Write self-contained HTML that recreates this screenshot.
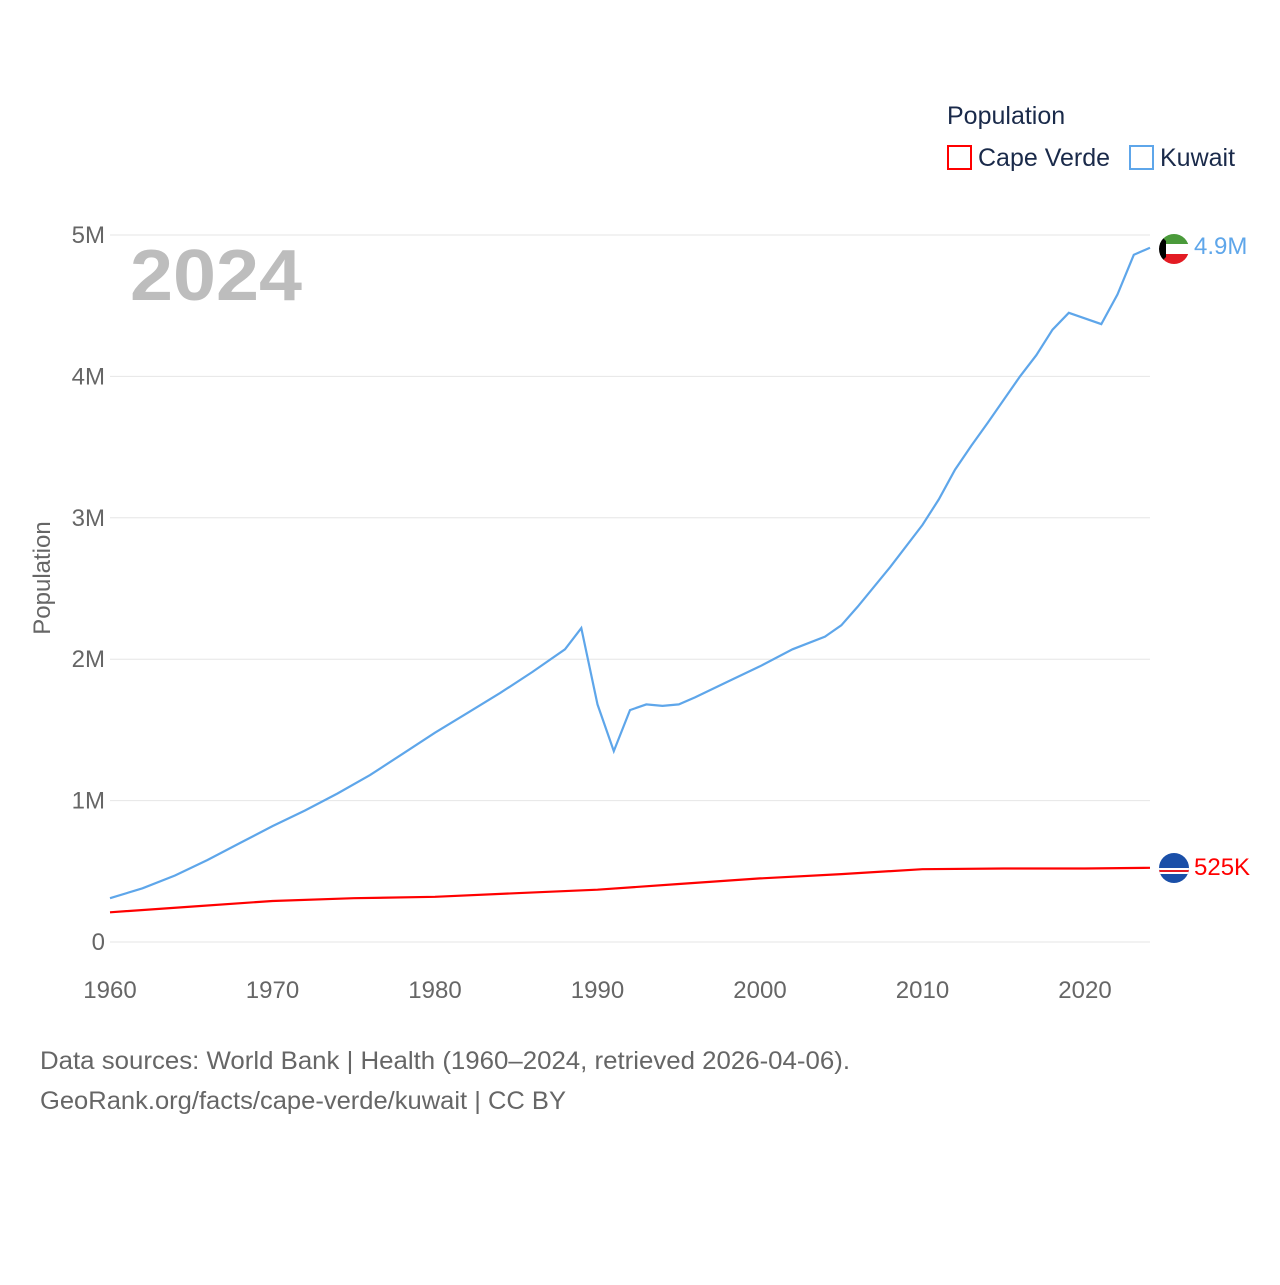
<!DOCTYPE html>
<html><head><meta charset="utf-8"><style>
body{margin:0;background:#fff;font-family:"Liberation Sans",sans-serif}
svg text{font-family:"Liberation Sans",sans-serif}
</style></head><body>
<svg width="1280" height="1280" viewBox="0 0 1280 1280">
<g id="grid"></g>
<g id="yticks"></g>
<g id="xticks"></g>
<text x="130" y="300" font-size="72" font-weight="bold" fill="#bdbdbd" textLength="172" lengthAdjust="spacingAndGlyphs">2024</text>
<text transform="translate(50,578) rotate(-90)" text-anchor="middle" font-size="24" fill="#666">Population</text>
<g>
<text x="947" y="124" font-size="25" fill="#1a2a4a">Population</text>
<g><rect x="948" y="146" width="23" height="23" fill="none" stroke="#f00" stroke-width="2"/><text x="978" y="166" font-size="25" fill="#1a2a4a">Cape Verde</text></g>
<g><rect x="1130" y="146" width="23" height="23" fill="none" stroke="#5ea6ea" stroke-width="2"/><text x="1160" y="166" font-size="25" fill="#1a2a4a">Kuwait</text></g>
</g>
<path id="kw" fill="none" stroke="#5ea6ea" stroke-width="2.2"/>
<path id="cv" fill="none" stroke="#f00" stroke-width="2.2"/>
<g>
<clipPath id="ck"><circle cx="1174" cy="249" r="15"/></clipPath>
<g clip-path="url(#ck)"><rect x="1159" y="234" width="30" height="10" fill="#4a9a3a"/><rect x="1159" y="244" width="30" height="10" fill="#fff"/><rect x="1159" y="254" width="30" height="10" fill="#e31b23"/><polygon points="1159,234 1166,241 1166,257 1159,264" fill="#000"/></g>
</g>
<text x="1194" y="254" font-size="24" fill="#5ea6ea">4.9M</text>
<g>
<clipPath id="cc"><circle cx="1174" cy="868" r="15"/></clipPath>
<g clip-path="url(#cc)"><rect x="1159" y="853" width="30" height="30" fill="#1a4fa8"/><rect x="1159" y="868" width="30" height="6" fill="#fff"/><rect x="1159" y="870" width="30" height="2" fill="#e31b23"/></g>
</g>
<text x="1194" y="875" font-size="24" fill="#f00">525K</text>
<text x="40" y="1069" font-size="25" fill="#666" textLength="810" lengthAdjust="spacingAndGlyphs">Data sources: World Bank | Health (1960–2024, retrieved 2026-04-06).</text>
<text x="40" y="1109" font-size="25" fill="#666" textLength="526" lengthAdjust="spacingAndGlyphs">GeoRank.org/facts/cape-verde/kuwait | CC BY</text>
</svg>
<script>
const yTickVals=[0,1,2,3,4,5];
const yTickLabels=["0","1M","2M","3M","4M","5M"];
const xTickVals=[1960,1970,1980,1990,2000,2010,2020];
const kwYears=[1960,1962,1964,1966,1968,1970,1972,1974,1976,1978,1980,1982,1984,1986,1988,1989,1990,1991,1992,1993,1994,1995,1996,1998,2000,2002,2004,2005,2006,2008,2010,2011,2012,2013,2014,2016,2017,2018,2019,2020,2021,2022,2023,2024];
const kwVals=[0.31,0.38,0.47,0.58,0.70,0.82,0.93,1.05,1.18,1.33,1.48,1.62,1.76,1.91,2.07,2.22,1.68,1.35,1.64,1.68,1.67,1.68,1.73,1.84,1.95,2.07,2.16,2.24,2.37,2.65,2.95,3.13,3.34,3.51,3.67,4.0,4.15,4.33,4.45,4.41,4.37,4.58,4.86,4.91];
const cvYears=[1960,1965,1970,1975,1980,1985,1990,1995,2000,2005,2010,2015,2020,2024];
const cvVals=[0.21,0.25,0.29,0.31,0.32,0.345,0.37,0.41,0.45,0.48,0.515,0.52,0.52,0.525];
const X=y=>110+(y-1960)*(1040/64);
const Y=v=>942-v*141.4;
const NS="http://www.w3.org/2000/svg";
const grid=document.getElementById('grid'),yt=document.getElementById('yticks'),xt=document.getElementById('xticks');
yTickVals.forEach((v,i)=>{
 const l=document.createElementNS(NS,'line');
 l.setAttribute('x1',110);l.setAttribute('x2',1150);l.setAttribute('y1',Y(v));l.setAttribute('y2',Y(v));
 l.setAttribute('stroke','#e6e6e6');l.setAttribute('stroke-width','1');
 
 
 grid.appendChild(l);
 const t=document.createElementNS(NS,'text');
 t.setAttribute('x',105);t.setAttribute('y',Y(v)+8);t.setAttribute('text-anchor','end');
 t.setAttribute('font-size','24');t.setAttribute('fill','#666');t.textContent=yTickLabels[i];
 
 
 yt.appendChild(t);
});
xTickVals.forEach(v=>{
 const t=document.createElementNS(NS,'text');
 t.setAttribute('x',X(v));t.setAttribute('y',998);t.setAttribute('text-anchor','middle');
 t.setAttribute('font-size','24');t.setAttribute('fill','#666');t.textContent=v;
 
 
 xt.appendChild(t);
});
const path=(ys,vs)=>ys.map((y,i)=>(i?'L':'M')+X(y).toFixed(1)+','+Y(vs[i]).toFixed(1)).join('');
document.getElementById('kw').setAttribute('d',path(kwYears,kwVals));
document.getElementById('cv').setAttribute('d',path(cvYears,cvVals));
</script>
</body></html>
